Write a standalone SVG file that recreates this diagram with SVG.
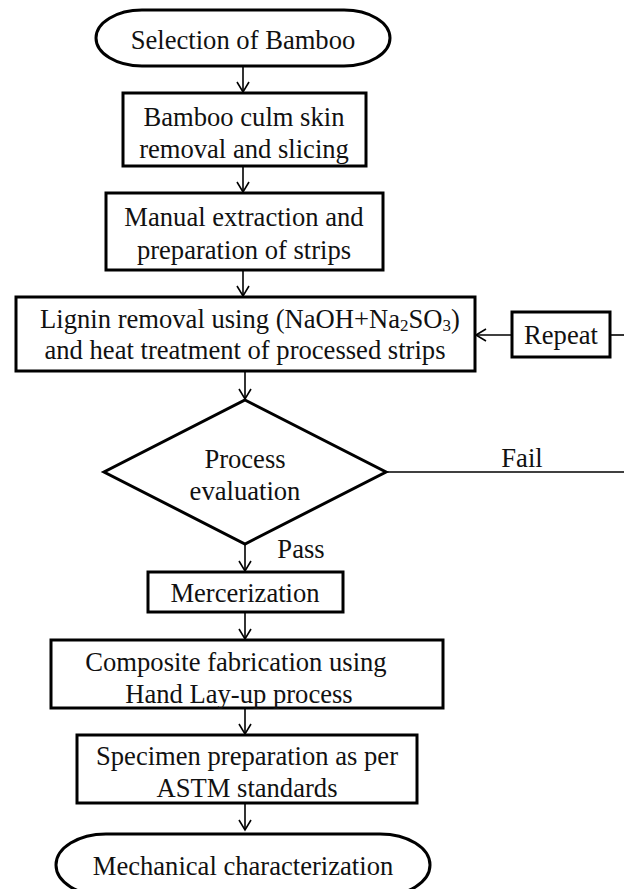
<svg xmlns="http://www.w3.org/2000/svg" width="624" height="889" viewBox="0 0 624 889">
<style>
.box{fill:#fff;stroke:#000;stroke-width:3}
.t{font-family:"Liberation Serif","Times New Roman",serif;font-size:26.6px;fill:#111;text-anchor:middle;dominant-baseline:central}
.c{fill:none;stroke:#000;stroke-width:1.6}
</style>
<defs>
<marker id="ah" markerUnits="userSpaceOnUse" viewBox="-12 -8 14 16" refX="0" refY="0" markerWidth="14" markerHeight="16" orient="auto">
<path d="M-10,-6 L0,0 L-10,6" fill="none" stroke="#000" stroke-width="1.6"/>
</marker>
</defs>
<rect width="624" height="889" fill="#fff"/>
<g id="connectors">
<line class="c" x1="243" y1="66" x2="243" y2="92" marker-end="url(#ah)"/>
<line class="c" x1="243" y1="166" x2="243" y2="192" marker-end="url(#ah)"/>
<line class="c" x1="243" y1="270" x2="243" y2="296" marker-end="url(#ah)"/>
<line class="c" x1="245" y1="371" x2="245" y2="399" marker-end="url(#ah)"/>
<line class="c" x1="245" y1="544" x2="245" y2="571" marker-end="url(#ah)"/>
<line class="c" x1="245" y1="612" x2="245" y2="639" marker-end="url(#ah)"/>
<line class="c" x1="245" y1="708" x2="245" y2="734" marker-end="url(#ah)"/>
<line class="c" x1="245" y1="803" x2="245" y2="830" marker-end="url(#ah)"/>
<line class="c" x1="512" y1="335" x2="476" y2="335" marker-end="url(#ah)"/>
<line class="c" x1="610" y1="335" x2="624" y2="335"/>
<line class="c" x1="386" y1="472" x2="624" y2="472"/>
<text class="t" x="522" y="458">Fail</text>
<text class="t" x="301" y="549">Pass</text>
</g>
<g id="start">
<rect class="box" x="96" y="10" width="294" height="56" rx="46" ry="28"/>
<text class="t" x="243" y="40">Selection of Bamboo</text>
</g>
<g id="skin-removal">
<rect class="box" x="123" y="93" width="243" height="73"/>
<text class="t" x="244" y="117">Bamboo culm skin</text>
<text class="t" x="244" y="149">removal and slicing</text>
</g>
<g id="extraction">
<rect class="box" x="106" y="193" width="277" height="77"/>
<text class="t" x="244" y="217">Manual extraction and</text>
<text class="t" x="244" y="250">preparation of strips</text>
</g>
<g id="lignin-removal">
<rect class="box" x="16" y="297" width="459" height="74"/>
<text class="t" x="250" y="319">Lignin removal using (NaOH+Na<tspan font-size="17" dy="6">2</tspan><tspan dy="-6">SO</tspan><tspan font-size="17" dy="6">3</tspan><tspan dy="-6">)</tspan></text>
<text class="t" x="245" y="350">and heat treatment of processed strips</text>
</g>
<g id="repeat">
<rect class="box" x="512" y="312" width="98" height="45"/>
<text class="t" x="561" y="335">Repeat</text>
</g>
<g id="evaluation">
<polygon class="box" points="245,400 386,472 245,544 104,472"/>
<text class="t" x="245" y="459">Process</text>
<text class="t" x="245" y="491">evaluation</text>
</g>
<g id="mercerization">
<rect class="box" x="148" y="572" width="195" height="40"/>
<text class="t" x="245" y="593">Mercerization</text>
</g>
<g id="fabrication">
<rect class="box" x="51" y="640" width="392" height="68"/>
<text class="t" x="236" y="662">Composite fabrication using</text>
<text class="t" x="239" y="694">Hand Lay-up process</text>
</g>
<g id="specimen">
<rect class="box" x="77" y="735" width="340" height="68"/>
<text class="t" x="247" y="756">Specimen preparation as per</text>
<text class="t" x="247" y="788">ASTM standards</text>
</g>
<g id="end">
<rect class="box" x="56" y="834" width="374" height="62" rx="50" ry="31"/>
<text class="t" x="243" y="866">Mechanical characterization</text>
</g>
</svg>
